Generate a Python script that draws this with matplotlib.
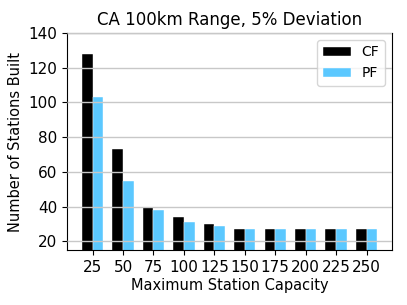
import numpy as np
import matplotlib
matplotlib.use("Agg")
import matplotlib.pyplot as plt

capacities = ["25", "50", "75", "100", "125", "150", "175", "200", "225", "250"]
cf_values = [128, 73, 40, 34, 30, 27, 27, 27, 27, 27]
pf_values = [103, 55, 38, 31, 29, 27, 27, 27, 27, 27]

fig = plt.figure(figsize=(4.07, 3.05), dpi=100)
ax = fig.add_axes([0.165, 0.18, 0.798, 0.712])

ind = np.arange(len(capacities))
width = 0.35
ax.bar(ind, cf_values, width, color="black", label="CF", edgecolor="white", linewidth=0.3)
ax.bar(ind + width, pf_values, width, color="#5BC8FF", label="PF", edgecolor="white", linewidth=0.3)
ax.set_xticks(ind + width / 2)
ax.set_xticklabels(capacities, fontsize=11)
ax.set_ylim(15, 140)
ax.set_yticks([20, 40, 60, 80, 100, 120, 140])
ax.tick_params(axis="y", labelsize=11)
ax.yaxis.grid(True, color="#c8c8c8", linewidth=1)
ax.set_axisbelow(False)
ax.set_xlabel("Maximum Station Capacity", fontsize=10.5, labelpad=2)
ax.set_ylabel("Number of Stations Built", fontsize=10.5)
ax.set_title("CA 100km Range, 5% Deviation", fontsize=12)
ax.legend(fontsize=10, loc="upper right")

fig.savefig("out.png", dpi=100)
